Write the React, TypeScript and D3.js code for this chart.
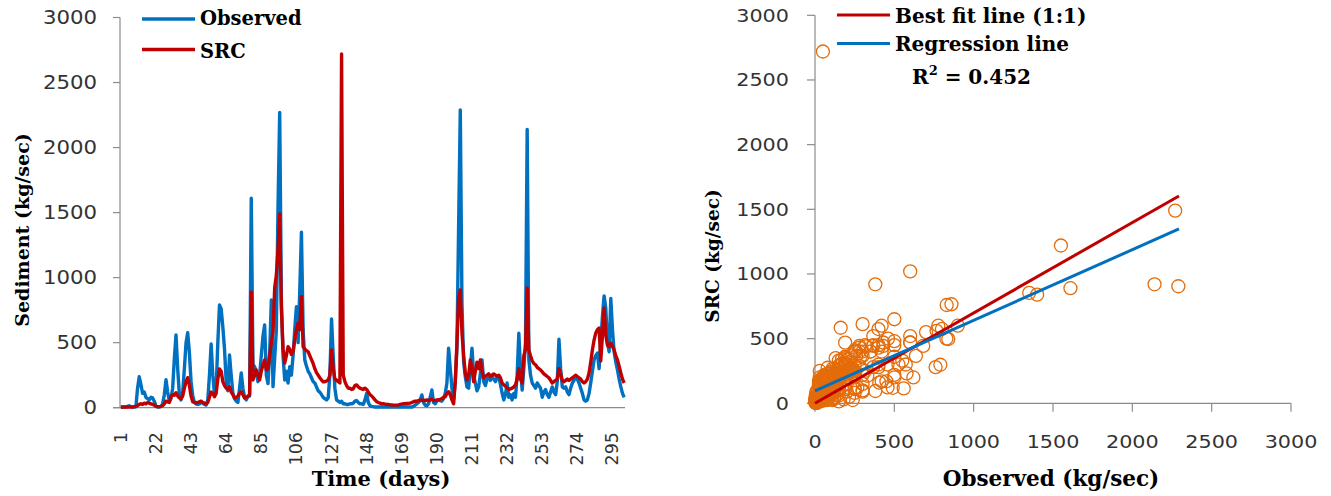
import React from "react";
import * as d3 from "d3";

// ---------- DATA ----------
const observed: number[] = [
  3, 3, 4, 5, 10, 15, 8, 5, 4, 6,
  150, 238, 180, 110, 120, 80, 70, 60, 80, 75,
  50, 15, 5, 5, 10, 30, 100, 215, 120, 50,
  70, 150, 380, 559, 300, 100, 60, 120, 300, 500,
  577, 420, 200, 90, 40, 30, 25, 30, 40, 35,
  25, 20, 60, 250, 490, 250, 100, 150, 500, 790,
  760, 620, 450, 200, 130, 405, 250, 110, 70, 50,
  40, 150, 267, 150, 80, 60, 90, 90, 1610, 330,
  315, 280, 200, 250, 400, 550, 636, 250, 185, 420,
  828, 162, 380, 600, 1550, 2270, 830, 400, 213, 280,
  190, 315, 250, 400, 600, 777, 500, 900, 1350, 600,
  367, 320, 280, 260, 230, 200, 190, 160, 130, 120,
  100, 80, 70, 60, 75, 250, 682, 400, 150, 60,
  50, 40, 50, 30, 30, 25, 25, 30, 30, 35,
  50, 55, 40, 30, 30, 25, 60, 110, 40, 15,
  10, 8, 5, 5, 5, 5, 5, 5, 5, 5,
  5, 5, 5, 5, 5, 5, 5, 5, 5, 5,
  5, 5, 5, 5, 5, 10, 20, 30, 40, 60,
  98, 40, 20, 15, 30, 80, 136, 40, 30, 50,
  60, 55, 50, 70, 110, 190, 457, 300, 150, 60,
  200, 460, 1400, 2290, 800, 350, 238, 160, 150, 300,
  457, 250, 190, 130, 160, 260, 367, 200, 170, 220,
  230, 210, 240, 220, 200, 230, 238, 180, 113, 60,
  100, 190, 80, 100, 60, 110, 80, 250, 572, 300,
  136, 300, 500, 2140, 367, 250, 190, 170, 150, 190,
  170, 150, 80, 120, 140, 100, 80, 120, 160, 120,
  100, 200, 526, 300, 160, 150, 160, 120, 100, 150,
  190, 210, 238, 220, 190, 150, 110, 60, 50, 60,
  110, 190, 280, 367, 400, 420, 300, 500, 700, 860,
  766, 500, 430, 840, 600, 430, 350, 290, 220, 160,
  110, 80,
];

const src: number[] = [
  5, 5, 5, 5, 5, 5, 5, 5, 8, 10,
  15, 25, 30, 25, 35, 30, 40, 35, 30, 25,
  20, 10, 8, 8, 10, 15, 30, 50, 45, 40,
  85, 100, 95, 115, 90, 75, 70, 90, 150, 200,
  231, 170, 90, 46, 40, 38, 40, 45, 50, 40,
  35, 30, 40, 80, 120, 110, 85, 110, 220, 298,
  280, 200, 170, 150, 140, 160, 120, 100, 75, 80,
  90, 110, 123, 100, 75, 80, 85, 100, 890, 213,
  250, 290, 250, 213, 280, 330, 367, 290, 300, 400,
  500, 584, 920, 1020, 1220, 1490, 760, 450, 343, 400,
  469, 450, 410, 430, 520, 600, 650, 600, 854, 470,
  450, 440, 430, 400, 370, 340, 300, 270, 250, 230,
  213, 200, 200, 205, 213, 250, 444, 300, 220, 213,
  200, 190, 2720, 250, 200, 170, 150, 150, 140, 145,
  170, 175, 160, 150, 145, 140, 150, 140, 120, 100,
  90, 75, 60, 46, 40, 35, 30, 30, 28, 25,
  25, 22, 22, 20, 20, 20, 22, 25, 28, 30,
  30, 32, 33, 35, 40, 46, 50, 50, 55, 55,
  60, 55, 55, 60, 55, 60, 65, 55, 55, 60,
  60, 65, 70, 80, 85, 110, 123, 100, 60, 30,
  200, 500, 840, 905, 575, 400, 267, 213, 250, 367,
  300, 200, 280, 350, 300, 367, 280, 230, 240, 250,
  260, 240, 250, 260, 250, 240, 250, 230, 190, 175,
  165, 150, 140, 145, 150, 160, 175, 220, 300, 220,
  190, 400, 450, 920, 444, 400, 360, 340, 330, 310,
  300, 290, 275, 260, 250, 240, 230, 210, 190, 200,
  210, 220, 300, 260, 210, 200, 210, 220, 210, 220,
  230, 240, 250, 240, 230, 220, 200, 190, 200, 220,
  267, 350, 444, 520, 574, 600, 612, 360, 550, 766,
  560, 480, 470, 497, 470, 444, 400, 367, 320, 267,
  220, 190,
];

const days: number[] = observed.map((_, i) => i + 1);
const dayTickLabels: number[] = [1, 22, 43, 64, 85, 106, 127, 148, 169, 190, 211, 232, 253, 274, 295];
const sedimentTicks: number[] = [0, 500, 1000, 1500, 2000, 2500, 3000];
const scatterTicks: number[] = [0, 500, 1000, 1500, 2000, 2500, 3000];

// fitted lines: [observed, SRC]
const bestFitLine: [number, number][] = [[0, 0], [2294, 1603]];
const regressionLine: [number, number][] = [[0, 97], [2294, 1348]];
const rSquared = "0.452";

// ---------- STYLE ----------
const BLUE = "#0070C0";
const RED = "#C00000";
const ORANGE = "#E46C0A";
const AXIS = "#8c8c8c";
const TICK_TEXT = "#333333";
const SANS = "'DejaVu Sans', sans-serif";
const SERIF = "'DejaVu Serif', serif";

function HText(props: {
  x: number; y: number; sx?: number; anchor?: string; size: number;
  family: string; weight?: string | number; fill?: string; children: React.ReactNode;
}) {
  const { x, y, sx = 1, anchor = "start", size, family, weight = "normal", fill = "#000", children } = props;
  return (
    <g transform={`translate(${x},${y}) scale(${sx},1)`}>
      <text textAnchor={anchor as any} dominantBaseline="central" fontSize={size}
        fontFamily={family} fontWeight={weight as any} fill={fill}>
        {children}
      </text>
    </g>
  );
}

export default function App() {
  // Left chart scales
  const xL = d3.scalePoint<number>().domain(days).range([120, 625]).padding(0.5);
  const yL = d3.scaleLinear().domain([0, 3000]).range([407.7, 17.5]);
  const lineL = d3.line<number>().x((_, i) => xL(days[i]) as number).y((v) => yL(v));

  // Right chart scales
  const xR = d3.scaleLinear().domain([0, 3000]).range([815, 1291]);
  const yR = d3.scaleLinear().domain([0, 3000]).range([403.3, 15.3]);
  const lineR = d3.line<[number, number]>().x((d) => xR(d[0])).y((d) => yR(d[1]));

  const pairs: [number, number][] = observed.map((o, i) => [o, src[i]]);

  return (
    <svg width={1331} height={496} style={{ position: "absolute", left: 0, top: 0, background: "#fff" }}>
      <rect x={0} y={0} width={1331} height={496} fill="#fff" />

      {/* ================= LEFT CHART ================= */}
      <line x1={120} x2={120} y1={yL(3000)} y2={yL(0)} stroke={AXIS} strokeWidth={1.2} />
      <line x1={113} x2={625} y1={yL(0)} y2={yL(0)} stroke={AXIS} strokeWidth={1.2} />
      {sedimentTicks.map((t) => (
        <g key={"lyt" + t}>
          <line x1={113} x2={120} y1={yL(t)} y2={yL(t)} stroke={AXIS} strokeWidth={1.2} />
          <HText x={97} y={yL(t)} anchor="end" size={19} sx={1.12} family={SANS} fill={TICK_TEXT}>{t}</HText>
        </g>
      ))}
      {dayTickLabels.map((d) => (
        <text key={"lxt" + d} transform={`translate(${xL(d)},432) rotate(-90)`} textAnchor="end"
          dominantBaseline="central" fontSize={17.5} fontFamily={SANS} fill={TICK_TEXT}>{d}</text>
      ))}
      <path d={lineL(observed) || ""} fill="none" stroke={BLUE} strokeWidth={3.4} strokeLinejoin="round" />
      <path d={lineL(src) || ""} fill="none" stroke={RED} strokeWidth={3.4} strokeLinejoin="round" />
      <text transform="translate(22,230) rotate(-90)" textAnchor="middle" dominantBaseline="central"
        fontSize={19} fontFamily={SERIF} fontWeight="bold">Sediment (kg/sec)</text>
      <HText x={381} y={478} anchor="middle" size={21} family={SERIF} weight="bold">Time (days)</HText>
      <line x1={142} x2={195} y1={19} y2={19} stroke={BLUE} strokeWidth={3.4} />
      <HText x={200} y={18} size={19.5} family={SERIF} weight="bold">Observed</HText>
      <line x1={142} x2={195} y1={49.5} y2={49.5} stroke={RED} strokeWidth={3.4} />
      <HText x={200} y={51} size={19.5} family={SERIF} weight="bold">SRC</HText>

      {/* ================= RIGHT CHART ================= */}
      <line x1={815} x2={815} y1={yR(3000)} y2={yR(0)} stroke={AXIS} strokeWidth={1.2} />
      <line x1={807} x2={1291} y1={yR(0)} y2={yR(0)} stroke={AXIS} strokeWidth={1.2} />
      {scatterTicks.map((t) => (
        <g key={"ryt" + t}>
          <line x1={807} x2={815} y1={yR(t)} y2={yR(t)} stroke={AXIS} strokeWidth={1.2} />
          <HText x={789} y={yR(t)} anchor="end" size={17} sx={1.22} family={SANS} fill={TICK_TEXT}>{t}</HText>
        </g>
      ))}
      {scatterTicks.map((t) => (
        <g key={"rxt" + t}>
          <line x1={xR(t)} x2={xR(t)} y1={yR(0)} y2={yR(0) + 8.5} stroke={AXIS} strokeWidth={1.2} />
          <HText x={xR(t)} y={441.7} anchor="middle" size={17} sx={1.22} family={SANS} fill={TICK_TEXT}>{t}</HText>
        </g>
      ))}
      {pairs.map((p, i) => (
        <circle key={"pt" + i} cx={xR(p[0])} cy={yR(p[1])} r={6.5} fill="none" stroke={ORANGE} strokeWidth={1.3} />
      ))}
      <path d={lineR(bestFitLine) || ""} fill="none" stroke={RED} strokeWidth={3} />
      <path d={lineR(regressionLine) || ""} fill="none" stroke={BLUE} strokeWidth={3} />
      <text transform="translate(712,256) rotate(-90)" textAnchor="middle" dominantBaseline="central"
        fontSize={18.5} fontFamily={SERIF} fontWeight="bold">SRC (kg/sec)</text>
      <HText x={1051} y={478} anchor="middle" size={21.5} family={SERIF} weight="bold">Observed (kg/sec)</HText>
      <line x1={837} x2={890} y1={15} y2={15} stroke={RED} strokeWidth={3} />
      <HText x={895} y={15.5} size={20} family={SERIF} weight="bold">Best fit line (1:1)</HText>
      <line x1={837} x2={890} y1={43.5} y2={43.5} stroke={BLUE} strokeWidth={3} />
      <HText x={895} y={44} size={20} family={SERIF} weight="bold">Regression line</HText>
      <g transform="translate(912,77)">
        <text dominantBaseline="central" fontSize={20} fontFamily={SERIF} fontWeight="bold">
          R<tspan fontSize={13} dy={-7}>2</tspan><tspan dy={7}>{" = " + rSquared}</tspan>
        </text>
      </g>
    </svg>
  );
}
